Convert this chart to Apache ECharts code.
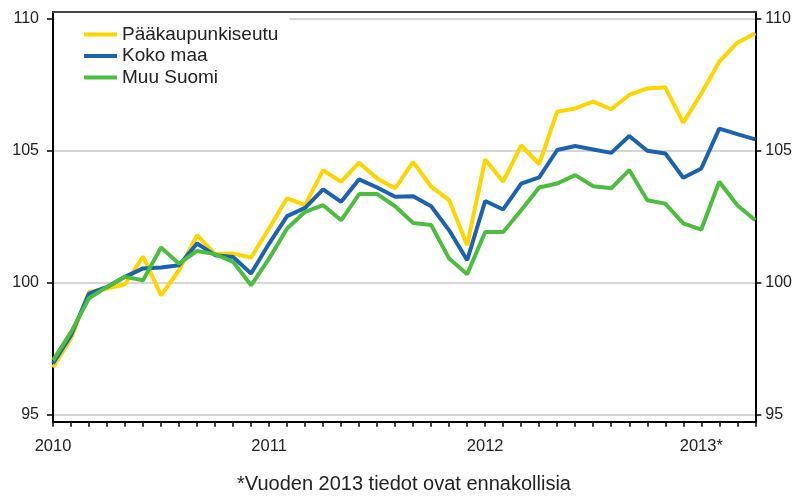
<!DOCTYPE html>
<html>
<head>
<meta charset="utf-8">
<script src="https://cdn.jsdelivr.net/npm/echarts@6.0.0/dist/echarts.min.js"></script>
<style>
	html, body {margin: 0; padding: 0; background: #fff;}
	#chart {width: 795px; height: 496px;}
</style>
</head>
<body>
<div id="chart"></div>
<script>
// kuukaudet 2010M01 - 2013M04
const months = [];
for (let y = 2010; y <= 2013; y++) {
	for (let m = 1; m <= 12; m++) {
		if (y === 2013 && m > 4) break;
		months.push(y + 'M' + (m < 10 ? '0' + m : m));
	}
}
const yearLabels = ['2010', '2011', '2012', '2013*'];
const yTicks = [95, 100, 105, 110];

const paakaupunkiseutu = [
	96.8, 97.9, 99.66, 99.79, 99.95, 101.0, 99.53, 100.48, 101.81, 101.09, 101.11, 100.96,
	102.06, 103.2, 102.94, 104.27, 103.83, 104.55, 103.95, 103.58, 104.58, 103.64, 103.13, 101.43,
	104.67, 103.83, 105.2, 104.5, 106.48, 106.6, 106.86, 106.57, 107.11, 107.36, 107.4, 106.06,
	107.17, 108.37, 109.09, 109.45
];
const kokoMaa = [
	96.95, 98.02, 99.6, 99.85, 100.23, 100.55, 100.58, 100.67, 101.49, 101.05, 100.98, 100.36,
	101.49, 102.53, 102.84, 103.54, 103.07, 103.92, 103.61, 103.26, 103.28, 102.9, 101.99, 100.86,
	103.1, 102.78, 103.76, 103.99, 105.03, 105.18, 105.05, 104.92, 105.56, 105.0, 104.9, 103.98,
	104.33, 105.84, 105.63, 105.43
];
const muuSuomi = [
	97.07, 98.14, 99.42, 99.85, 100.23, 100.1, 101.34, 100.73, 101.21, 101.09, 100.8, 99.91,
	100.92, 102.06, 102.69, 102.94, 102.37, 103.36, 103.36, 102.9, 102.27, 102.19, 100.92, 100.33,
	101.93, 101.93, 102.75, 103.61, 103.76, 104.08, 103.66, 103.58, 104.27, 103.13, 103.0, 102.25,
	102.02, 103.83, 102.94, 102.37
];

const font = 'Liberation Sans, Arial, sans-serif';

const yAxisBase = (pos, margin) => ({
	type: 'value',
	position: pos,
	min: 94.75,
	max: 110.25,
	axisLine: {show: true, lineStyle: {color: '#000', width: 2}},
	axisTick: {show: true, inside: false, length: 6, customValues: yTicks, lineStyle: {color: '#000', width: 1.5}},
	axisLabel: {customValues: yTicks, margin: margin, color: '#222', fontSize: 16, fontFamily: font},
	splitLine: {show: pos === 'left', lineStyle: {color: '#c8c8c8', width: 1.5}}
});

const makeSeries = (name, data, color) => ({
	name: name,
	type: 'line',
	data: data,
	symbol: 'none',
	lineStyle: {color: color, width: 4},
	itemStyle: {color: color}
});

let chart = echarts.init(document.getElementById('chart'));
chart.setOption({
	animation: false,
	title: {
		text: '*Vuoden 2013 tiedot ovat ennakollisia',
		left: 404,
		top: 474,
		textAlign: 'center',
		padding: 0,
		textStyle: {fontSize: 20, fontWeight: 'normal', color: '#222', fontFamily: font}
	},
	legend: {
		orient: 'vertical',
		left: 55,
		top: 14,
		padding: [11, 11, 6, 29],
		backgroundColor: '#fff',
		icon: 'rect',
		itemWidth: 33,
		itemHeight: 4,
		itemGap: 2.5,
		textStyle: {fontSize: 19, color: '#222', fontFamily: font},
		data: ['Pääkaupunkiseutu', 'Koko maa', 'Muu Suomi']
	},
	grid: {left: 53, right: 39, top: 12, bottom: 74.3},
	xAxis: [
		{
			type: 'category',
			data: months,
			boundaryGap: false,
			axisLine: {lineStyle: {color: '#000', width: 2}},
			axisTick: {show: true, interval: 0, length: 5, lineStyle: {color: '#000', width: 1.5}},
			axisLabel: {
				interval: (i) => i % 12 === 0,
				formatter: (v, i) => yearLabels[Math.floor(i / 12)],
				margin: 16,
				color: '#222',
				fontSize: 16.5,
				fontFamily: font
			},
			splitLine: {show: false}
		},
		{
			type: 'category',
			position: 'top',
			data: months,
			boundaryGap: false,
			axisLine: {lineStyle: {color: '#444', width: 2}},
			axisTick: {show: false},
			axisLabel: {show: false}
		}
	],
	yAxis: [yAxisBase('left', 14), yAxisBase('right', 10)],
	series: [
		makeSeries('Pääkaupunkiseutu', paakaupunkiseutu, '#FFD500'),
		makeSeries('Koko maa', kokoMaa, '#1B63B1'),
		makeSeries('Muu Suomi', muuSuomi, '#4DBD3F')
	]
});
</script>
</body>
</html>
